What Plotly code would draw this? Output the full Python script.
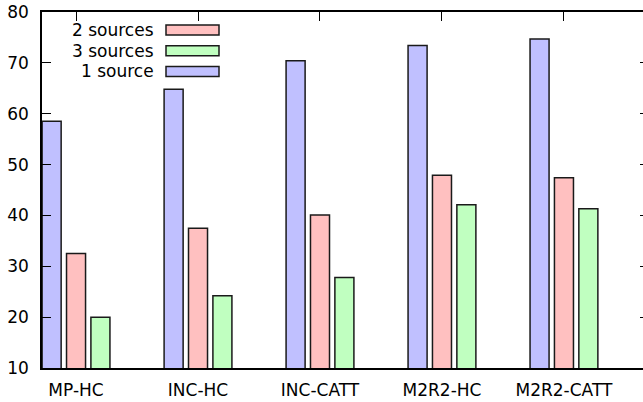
import plotly.graph_objects as go

categories = ["MP-HC", "INC-HC", "INC-CATT", "M2R2-HC", "M2R2-CATT"]
one_source = [58.5, 64.8, 70.4, 73.4, 74.7]
two_sources = [32.5, 37.5, 40.1, 47.9, 47.4]
three_sources = [20.0, 24.2, 27.8, 42.1, 41.3]
series_names = ["1 source", "2 sources", "3 sources"]
series_colors = ["#c0c0ff", "#ffc0c0", "#c0ffc0"]
y_ticks = [10, 20, 30, 40, 50, 60, 70, 80]

W, H = 643, 402
ML, MR, MT, MB = 42, 0, 12, 34
PW, PH = W - ML - MR, H - MT - MB
FONT = "DejaVu Sans"
FS = 17

fig = go.Figure()
for name, vals, col in zip(series_names, [one_source, two_sources, three_sources], series_colors):
    fig.add_trace(go.Bar(
        x=categories, y=vals, name=name,
        marker=dict(color=col, line=dict(color="#1a1a1a", width=1.5)),
        showlegend=False,
    ))

# custom gnuplot-style key (text right, sample box on the right)
legend_order = [1, 2, 0]
for row, idx in enumerate(legend_order):
    cy = 30 + row * 20.7
    yp = (H - MB - cy) / PH
    fig.add_annotation(
        x=(156 - ML) / PW, y=yp, xref="paper", yref="paper",
        text=series_names[idx], showarrow=False, xanchor="right", yanchor="middle",
        font=dict(family=FONT, size=FS, color="black"),
    )
    fig.add_shape(
        type="rect", xref="paper", yref="paper",
        x0=(166 - ML) / PW, x1=(219 - ML) / PW,
        y0=(H - MB - (cy + 5)) / PH, y1=(H - MB - (cy - 5)) / PH,
        fillcolor=series_colors[idx], line=dict(color="#1a1a1a", width=1.5),
    )

fig.add_trace(go.Scatter(x=[None], y=[None], yaxis="y2", showlegend=False, hoverinfo="skip"))

fig.update_layout(
    width=W, height=H,
    margin=dict(l=ML, r=MR, t=MT, b=MB, pad=0, autoexpand=False),
    paper_bgcolor="white", plot_bgcolor="white",
    barmode="group", bargap=0.4, bargroupgap=0.22,
    font=dict(family=FONT, size=FS, color="black"),
    xaxis=dict(
        type="category", range=[-0.279, 4.648], automargin=False,
        showline=True, linecolor="black", linewidth=1.5, mirror="ticks",
        ticks="inside", ticklen=9, tickwidth=1.2, tickcolor="black",
        showgrid=False, zeroline=False, layer="below traces",
        tickfont=dict(family=FONT, size=FS, color="black"),
        ticklabelstandoff=6,
    ),
    yaxis=dict(
        range=[10, 80], tickvals=y_ticks, automargin=False,
        showline=True, linecolor="black", linewidth=1.5, mirror=False,
        ticks="inside", ticklen=9, tickwidth=1.2, tickcolor="black",
        showgrid=False, zeroline=False,
        tickfont=dict(family=FONT, size=FS, color="black"),
        ticklabelstandoff=8,
    ),
    yaxis2=dict(
        range=[10, 80], tickvals=y_ticks, overlaying="y", side="right", automargin=False,
        showline=False, ticks="inside", ticklen=3, tickwidth=1.2, tickcolor="black",
        showticklabels=False, showgrid=False, zeroline=False,
    ),
)

fig.write_html(
    "out.html",
    config={"displayModeBar": False},
    post_script="document.body.style.margin='0';document.body.style.overflow='hidden';",
)
